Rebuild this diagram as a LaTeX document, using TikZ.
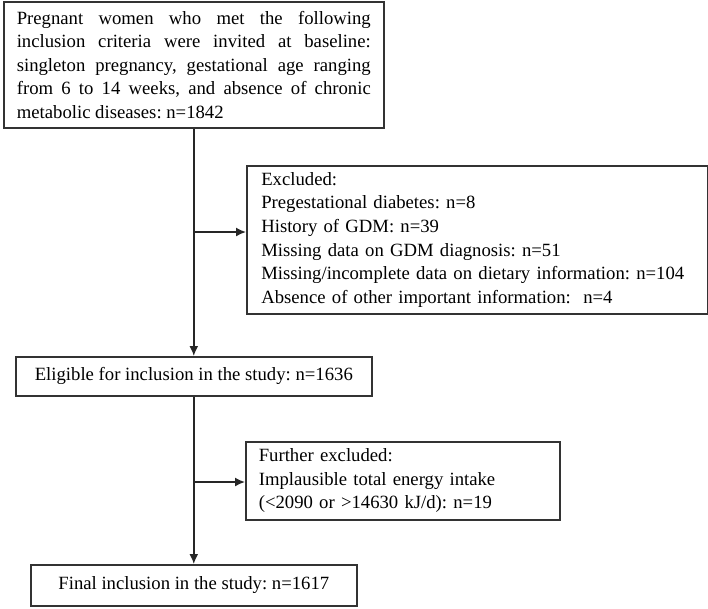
\documentclass[tikz,border=0pt]{standalone}
\usepackage{fontspec}
\setmainfont{Liberation Serif}
\usetikzlibrary{arrows.meta}
\frenchspacing
\begin{document}
\begin{tikzpicture}[x=1pt,y=1pt,
  box/.style={draw=black!80, line width=1.6pt, inner sep=0pt, anchor=north west,
    font=\fontsize{18.7}{23.6}\selectfont},
  conn/.style={draw=black!85, line width=1.6pt},
  arr/.style={conn, -{Latex[length=10pt,width=9pt]}}]
\useasboundingbox (0,0) rectangle (708,-608);
\node[box, minimum width=380pt, minimum height=126pt, text width=354pt, align=justify] (top) at (3,-1)
 {\hyphenpenalty=10000 Pregnant women who met the following\linebreak inclusion criteria were invited at baseline:\linebreak singleton pregnancy, gestational age ranging\linebreak from 6 to 14 weeks, and absence of chronic\linebreak metabolic diseases: n=1842};
\node[box, minimum width=461pt, minimum height=148pt, text width=432pt, align=left] (excl) at (246,-165)
 {Excluded:\\
  Pregestational diabetes: n=8\\
  History of GDM: n=39\\
  Missing data on GDM diagnosis: n=51\\
  Missing/incomplete data on dietary information: n=104\\
  Absence of other important information:\ \ n=4};
\node[box, minimum width=356pt, minimum height=39pt, align=center] (elig) at (15,-356)
 {Eligible for inclusion in the study: n=1636};
\node[box, minimum width=314pt, minimum height=78pt, text width=288pt, align=left] (furth) at (245,-441)
 {Further excluded:\\
  Implausible total energy intake\\
  (<2090 or >14630 kJ/d): n=19};
\node[box, minimum width=326pt, minimum height=41pt, align=center] (final) at (30,-564)
 {Final inclusion in the study: n=1617};
\coordinate (b1) at (193,-232);
\coordinate (b2) at (193,-482);
\draw[arr] (top.south) -- (elig.north);
\draw[arr] (b1) -- (b1 -| excl.west);
\draw[arr] (elig.south) -- (final.north);
\draw[arr] (b2) -- (b2 -| furth.west);
\end{tikzpicture}
\end{document}
